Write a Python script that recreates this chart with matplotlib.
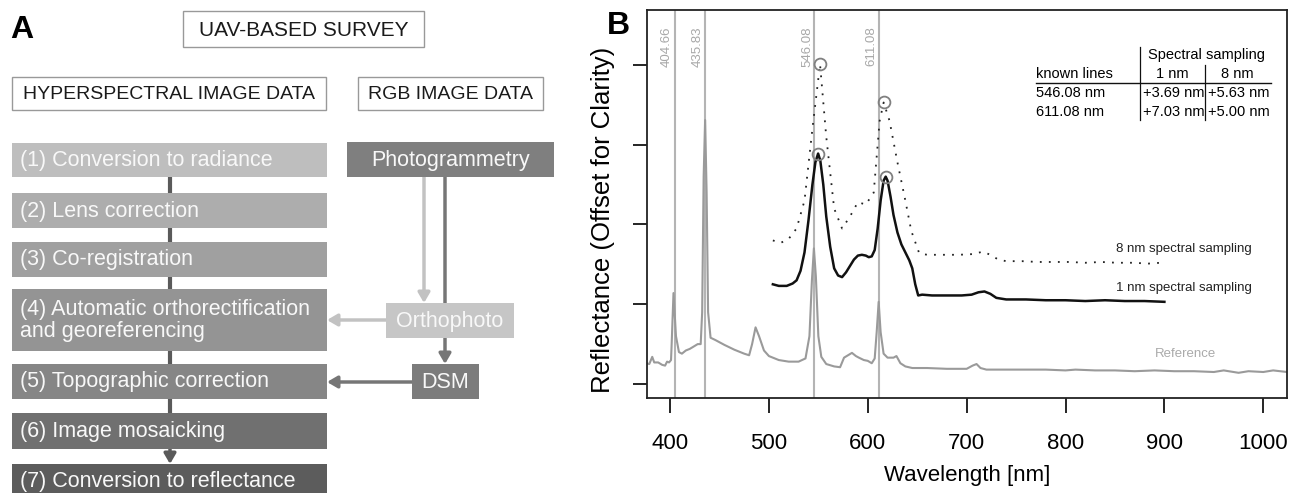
import numpy as np
import matplotlib
matplotlib.use("Agg")
import matplotlib.pyplot as plt
from matplotlib.patches import Rectangle
from matplotlib.transforms import blended_transform_factory

plt.rcParams['font.family'] = ['Liberation Sans', 'DejaVu Sans']

# ---- panel A: processing steps ----
hs_steps = ["(1) Conversion to radiance", "(2) Lens correction", "(3) Co-registration",
            "(4) Automatic orthorectification\nand georeferencing", "(5) Topographic correction",
            "(6) Image mosaicking", "(7) Conversion to reflectance"]
rgb_steps = ["Photogrammetry", "Orthophoto", "DSM"]
headers = ["UAV-BASED SURVEY", "HYPERSPECTRAL IMAGE DATA", "RGB IMAGE DATA"]

# ---- panel B: spectra ----
known_lines = [404.66, 435.83, 546.08, 611.08]

ref_wl = [376, 379, 382, 384, 388, 392, 395, 397, 399, 401, 401.5, 403.5, 406, 409, 412, 416,
          420, 424, 428, 431, 432.5, 434, 435.5, 437, 438.5, 441, 446, 455, 465, 475, 480, 483,
          486.5, 490, 495, 500, 510, 520, 530, 537, 541, 543.5, 545.5, 547.5, 550, 553, 558,
          566, 572, 576, 580, 584, 588, 591, 596, 600, 604, 607, 609, 611, 613, 616, 620, 626,
          629, 633, 638, 645, 660, 680, 700, 706, 710, 714, 720, 740, 760, 780, 800, 810, 830,
          850, 870, 890, 910, 930, 950, 960, 975, 985, 1000, 1010, 1024]
ref_val = [0.26, 0.25, 0.34, 0.27, 0.27, 0.24, 0.23, 0.28, 0.27, 0.30, 0.45, 1.14, 0.60, 0.40,
           0.38, 0.42, 0.44, 0.47, 0.50, 0.50, 0.90, 2.60, 3.31, 2.40, 0.90, 0.58, 0.55, 0.49,
           0.43, 0.38, 0.36, 0.50, 0.71, 0.60, 0.42, 0.35, 0.30, 0.28, 0.28, 0.32, 0.60, 1.30,
           1.70, 1.35, 0.60, 0.34, 0.25, 0.22, 0.21, 0.33, 0.36, 0.39, 0.35, 0.33, 0.30, 0.29,
           0.26, 0.32, 0.65, 1.03, 0.65, 0.38, 0.33, 0.33, 0.35, 0.26, 0.22, 0.20, 0.20, 0.19,
           0.19, 0.23, 0.25, 0.20, 0.18, 0.18, 0.18, 0.18, 0.17, 0.18, 0.17, 0.17, 0.16, 0.17,
           0.16, 0.16, 0.15, 0.17, 0.14, 0.16, 0.15, 0.17, 0.15]

nm1_wl = [504, 510, 518, 524, 528, 532, 536, 540, 544, 547, 549.77, 552, 555, 558, 562, 566,
          570, 574, 578, 582, 586, 590, 594, 598, 601, 604, 607, 610, 613, 616, 618.11, 620,
          623, 626, 630, 634, 638, 642, 645, 648, 651, 655, 665, 680, 695, 705, 712, 718, 724,
          730, 740, 760, 780, 800, 820, 840, 860, 880, 900]
nm1_val = [1.25, 1.23, 1.23, 1.26, 1.30, 1.42, 1.65, 2.05, 2.50, 2.78, 2.89, 2.80, 2.50, 2.10,
           1.72, 1.45, 1.36, 1.34, 1.40, 1.48, 1.56, 1.61, 1.62, 1.61, 1.59, 1.60, 1.68, 1.95,
           2.30, 2.55, 2.60, 2.55, 2.35, 2.12, 1.90, 1.75, 1.65, 1.55, 1.45, 1.25, 1.11, 1.12,
           1.11, 1.11, 1.11, 1.12, 1.15, 1.16, 1.13, 1.08, 1.06, 1.06, 1.05, 1.05, 1.04, 1.05,
           1.04, 1.04, 1.03]

nm8_wl = [504, 512, 520, 528, 536, 544, 551.71, 558, 566, 574, 582, 590, 598, 606, 612, 616.08,
          622, 630, 638, 644, 652, 660, 676, 692, 708, 716, 724, 732, 740, 756, 772, 788, 804,
          820, 836, 852, 868, 884, 896]
nm8_val = [1.80, 1.77, 1.82, 1.95, 2.30, 3.20, 4.01, 3.10, 2.20, 1.95, 2.10, 2.28, 2.25, 2.40,
           3.30, 3.53, 3.30, 2.78, 2.30, 1.92, 1.64, 1.62, 1.62, 1.62, 1.63, 1.66, 1.62, 1.56,
           1.54, 1.54, 1.53, 1.53, 1.53, 1.52, 1.53, 1.52, 1.52, 1.51, 1.52]

peak_wl_1nm = [549.77, 618.11]
peak_val_1nm = [2.89, 2.60]
peak_wl_8nm = [551.71, 616.08]
peak_val_8nm = [4.01, 3.53]

table_rows = [["546.08 nm", "+3.69 nm", "+5.63 nm"],
              ["611.08 nm", "+7.03 nm", "+5.00 nm"]]

W, H = 1290, 493
fig = plt.figure(figsize=(W / 100, H / 100), dpi=100)

# ================= panel A (pixel coordinates) =================
axa = fig.add_axes([0, 0, 600 / W, 1])
axa.set_xlim(0, 600)
axa.set_ylim(H, 0)
axa.axis('off')

def box(x0, y0, x1, y1, fc, ec='none', z=3):
    axa.add_patch(Rectangle((x0, y0), x1 - x0, y1 - y0, fc=fc, ec=ec, lw=1.0, zorder=z))

# header boxes
hdr_pos = [(183, 11, 424, 47), (12, 77, 326, 110), (358, 77, 543, 110)]
hdr_fs = [15, 14, 14]
for label, (x0, y0, x1, y1), fs in zip(headers, hdr_pos, hdr_fs):
    box(x0, y0, x1, y1, 'white', '#999999')
    axa.text((x0 + x1) / 2, (y0 + y1) / 2 + 1, label, ha='center', va='center',
             fontsize=fs, color='#1a1a1a', zorder=4)

# hyperspectral chain
hs_pos = [(143, 177), (193, 228), (242, 277), (289, 351), (364, 399), (413, 449), (464, 497)]
hs_col = ['#bebebe', '#adadad', '#a0a0a0', '#949494', '#868686', '#707070', '#5c5c5c']
cx = 170
for i, (label, (y0, y1), c) in enumerate(zip(hs_steps, hs_pos, hs_col)):
    box(12, y0, 327, y1, c)
    axa.text(20, (y0 + y1) / 2 + 0.5, label, ha='left', va='center', fontsize=15.5,
             color='#f8f8f8', linespacing=1.0, zorder=4)
    if i < len(hs_steps) - 2:
        axa.plot([cx, cx], [y1, hs_pos[i + 1][0]], color='#5a5a5a', lw=3, zorder=2,
                 solid_capstyle='butt')

light, dark = '#c2c2c2', '#767676'

def arr(xy, xytext, col):
    axa.annotate('', xy=xy, xytext=xytext,
                 arrowprops=dict(arrowstyle='-|>,head_length=0.6,head_width=0.35', color=col,
                                 lw=2.5, shrinkA=0, shrinkB=0), zorder=2)

arr((cx, hs_pos[6][0]), (cx, hs_pos[5][1]), '#5a5a5a')

# rgb chain
rgb_pos = [(347, 142, 554, 177), (386, 303, 514, 338), (412, 364, 479, 399)]
rgb_col = ['#7f7f7f', '#c6c6c6', '#7c7c7c']
for label, (x0, y0, x1, y1), c in zip(rgb_steps, rgb_pos, rgb_col):
    box(x0, y0, x1, y1, c)
    axa.text((x0 + x1) / 2, (y0 + y1) / 2 + 1, label, ha='center', va='center',
             fontsize=15.5, color='#f8f8f8', zorder=4)

arr((424, 303), (424, 177), light)
arr((445, 364), (445, 177), dark)
arr((327, 320), (386, 320), light)
arr((327, 382), (412, 382), dark)

fig.text(10 / W, 1 - 15 / H, 'A', fontsize=23, fontweight='bold', ha='left', va='top')
fig.text(607 / W, 1 - 11 / H, 'B', fontsize=23, fontweight='bold', ha='left', va='top')

# ================= panel B =================
ax = fig.add_axes([646.7 / W, (H - 398) / H, (1287 - 646.7) / W, 388 / H])
ax.set_xlim(376.4, 1024)
ax.set_ylim(-0.176, 4.69)

for wl in known_lines:
    ax.axvline(wl, color='#b4b4b4', lw=1.5, zorder=1)
trans = blended_transform_factory(ax.transData, ax.transAxes)
for wl in known_lines:
    ax.text(wl - 1.5, 0.958, f"{wl:.2f}", rotation=90, ha='right', va='top',
            fontsize=9.5, color='#a8a8a8', transform=trans)

ax.plot(ref_wl, ref_val, color='#9a9a9a', lw=1.5, zorder=2)
ax.plot(nm1_wl, nm1_val, color='#111111', lw=1.8, zorder=3)
ax.plot(nm8_wl, nm8_val, color='#222222', lw=1.3, linestyle=(0, (1, 4)), zorder=3)
ax.plot(peak_wl_1nm, peak_val_1nm, 'o', mfc='none', mec='#808080', ms=8.5, mew=1.3, zorder=4)
ax.plot(peak_wl_8nm, peak_val_8nm, 'o', mfc='none', mec='#808080', ms=8.5, mew=1.3, zorder=4)

ax.text(920, 1.69, "8 nm spectral sampling", ha='center', va='center', fontsize=9.5,
        color='#222222')
ax.text(920, 1.20, "1 nm spectral sampling", ha='center', va='center', fontsize=9.5,
        color='#222222')
ax.text(921, 0.376, "Reference", ha='center', va='center', fontsize=9.5, color='#aaaaaa')

# table
tfs = 10.5
ax.text(942.5, 4.125, "Spectral sampling", ha='center', va='center', fontsize=tfs)
ax.text(770.5, 3.887, "known lines", ha='left', va='center', fontsize=tfs)
ax.text(908, 3.887, "1 nm", ha='center', va='center', fontsize=tfs)
ax.text(974, 3.887, "8 nm", ha='center', va='center', fontsize=tfs)
ax.plot([770.5, 1008], [3.774, 3.774], color='#111111', lw=1.0)
ax.plot([875.7, 875.7], [4.226, 3.31], color='#111111', lw=0.9)
ax.plot([941.5, 941.5], [4.0, 3.31], color='#111111', lw=0.9)
row_y = [3.649, 3.41]
for (a, b, c), yy in zip(table_rows, row_y):
    ax.text(770.5, yy, a, ha='left', va='center', fontsize=tfs)
    ax.text(878.2, yy, b, ha='left', va='center', fontsize=tfs)
    ax.text(944.0, yy, c, ha='left', va='center', fontsize=tfs)

ax.set_xticks([400, 500, 600, 700, 800, 900, 1000])
ax.set_yticks([0, 1, 2, 3, 4])
ax.set_yticklabels([])
ax.tick_params(axis='x', length=11, width=1.2, labelsize=16, pad=14)
ax.tick_params(axis='y', length=10, width=1.2)
for s in ax.spines.values():
    s.set_linewidth(1.3)
    s.set_color('#222222')
ax.set_xlabel("Wavelength [nm]", fontsize=16, labelpad=8)
fig.text(603 / W, 1 - 220 / H, "Reflectance (Offset for Clarity)", rotation=90,
         ha='center', va='center', fontsize=18.5)

fig.savefig("out.png", dpi=100)
